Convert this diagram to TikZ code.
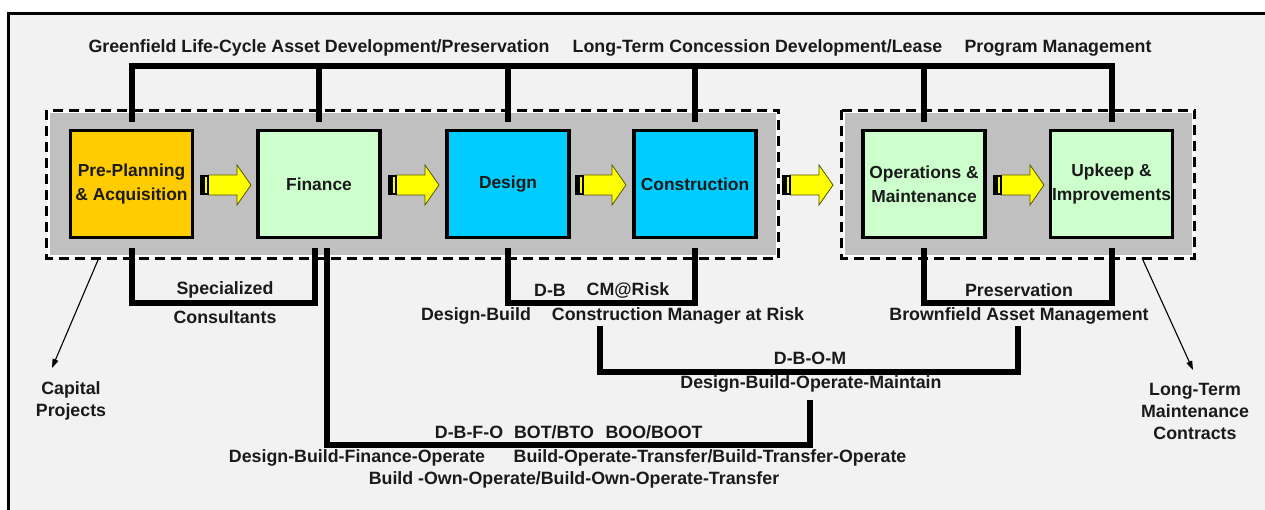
\documentclass[tikz,border=0pt]{standalone}
\usepackage{fontspec}
\setmainfont{Liberation Sans}
\usetikzlibrary{arrows.meta}
\definecolor{bgc}{HTML}{F2F2F2}
\definecolor{grp}{HTML}{C0C0C0}
\definecolor{orangec}{HTML}{FFCC00}
\definecolor{greenc}{HTML}{CCFFCC}
\definecolor{bluec}{HTML}{00CCFF}
\definecolor{yellowc}{HTML}{FFFF00}
\definecolor{txt}{HTML}{1A1A1A}
\definecolor{aredge}{HTML}{555500}
\tikzset{
  grpbox/.style={fill=grp, draw=white, line width=3pt, inner sep=0pt},
  dashline/.style={draw=black, line width=3pt, dash pattern=on 10pt off 6pt},
  stagebox/.style={draw=black, line width=3.5pt, minimum width=122pt, minimum height=107pt,
    inner sep=0pt, align=center, font=\fontsize{17.4}{24}\selectfont\bfseries, text=txt},
  lbl/.style={inner sep=0pt, font=\fontsize{17.8}{22}\selectfont\bfseries, text=txt, align=center},
  br/.style={draw=black, line width=6pt, line join=miter},
  thinarrow/.style={draw=black, line width=1.1pt, -{Triangle[length=9pt,width=6pt]}},
  barrow/.pic={
    \fill[yellowc, draw=aredge, line width=0.8pt] (8,-10) -- (37,-10) -- (37,-20) -- (51,0) -- (37,20) -- (37,10) -- (8,10) -- cycle;
    \fill[black] (0,-10) rectangle (9,10);
    \fill[yellowc] (4.5,-8) rectangle (6.5,8);
  }
}
\begin{document}
\begin{tikzpicture}[x=1pt,y=-1pt]
\useasboundingbox (0,0) rectangle (1265,510);
\fill[white] (0,0) rectangle (1265,510);
\fill[bgc] (8.5,13.5) rectangle (1270,515);
\draw[line width=3pt] (8.5,515) -- (8.5,13.5) -- (1270,13.5);

% groups
\node[grpbox, minimum width=729pt, minimum height=145pt] (g1) at (412.5,184.5) {};
\draw[dashline] (g1.north west) rectangle (g1.south east);
\node[grpbox, minimum width=350pt, minimum height=145pt] (g2) at (1018,184.5) {};
\draw[dashline] (g2.north west) rectangle (g2.south east);

% stage boxes
\node[stagebox, fill=orangec] (pp) at (131.5,184) {Pre-Planning\\\& Acquisition};
\node[stagebox, fill=greenc] (fin) at (319,184) {Finance};
\node[stagebox, fill=bluec] (des) at (508,184) {Design};
\node[stagebox, fill=bluec] (con) at (695,184) {Construction};
\node[stagebox, fill=greenc] (ops) at (924,184) {Operations \&\\Maintenance};
\node[stagebox, fill=greenc] (upk) at (1111.5,184) {Upkeep \&\\Improvements};

% block arrows
\pic at (200,185) {barrow};
\pic at (388,185) {barrow};
\pic at (575,185) {barrow};
\pic at (782,185) {barrow};
\pic at (993,185) {barrow};

% top labels
\node[lbl] (tl1) at (319,48) {Greenfield Life-Cycle Asset Development/Preservation};
\node[lbl] (tl2) at (757.5,48) {Long-Term Concession Development/Lease};
\node[lbl] (tl3) at (1058,48) {Program Management};

% top bracket
\coordinate (ty) at (0,66);
\draw[br] ([yshift=7pt]pp.north) -- (pp.north |- ty) -- (upk.north |- ty) -- ([yshift=7pt]upk.north);
\draw[br] ([yshift=7pt]fin.north) -- (fin.north |- ty);
\draw[br] ([yshift=7pt]des.north) -- (des.north |- ty);
\draw[br] ([yshift=7pt]con.north) -- (con.north |- ty);
\draw[br] ([yshift=7pt]ops.north) -- (ops.north |- ty);

% bottom brackets
\coordinate (by) at (0,303);
\draw[br] ([yshift=-9pt]pp.south) -- (pp.south |- by) -- ([xshift=-4pt]fin.south |- by) -- ([xshift=-4pt,yshift=-9pt]fin.south);
\draw[br] ([yshift=-9pt]des.south) -- (des.south |- by) -- (con.south |- by) -- ([yshift=-9pt]con.south);
\draw[br] ([yshift=-9pt]ops.south) -- (ops.south |- by) -- (upk.south |- by) -- ([yshift=-9pt]upk.south);

\node[lbl] (sp1) at (225,290) {Specialized};
\node[lbl] (sp2) at (225,317) {Consultants};
\node[lbl] (db) at (550,290) {D-B};
\node[lbl] (cmr) at (628,290) {CM@Risk};
\node[lbl] (dbl) at (476,316) {Design-Build};
\node[lbl] (cmrl) at (678,316) {Construction Manager at Risk};
\node[lbl] (pres) at (1019,290) {Preservation};
\node[lbl] (bam) at (1019,316) {Brownfield Asset Management};

% DBOM
\coordinate (dbomL) at (600,326);
\coordinate (dbomR) at (1018,326);
\coordinate (dbomy) at (0,372);
\draw[br] (dbomL) |- (dbomR |- dbomy) -- (dbomR);
\node[lbl] (dbom) at (810,358) {D-B-O-M};
\node[lbl] (dbomt) at (811,384) {Design-Build-Operate-Maintain};

% DBFO
\coordinate (dbfoy) at (0,445);
\coordinate (dbfoend) at (810,400);
\draw[br] ([xshift=8pt,yshift=-9pt]fin.south) |- (dbfoend |- dbfoy) -- (dbfoend);
\node[lbl] (dbfo) at (469,432) {D-B-F-O};
\node[lbl] (bot) at (554,432) {BOT/BTO};
\node[lbl] (boo) at (654,432) {BOO/BOOT};
\node[lbl] (dbfot) at (357,458) {Design-Build-Finance-Operate};
\node[lbl] (bott) at (710,458) {Build-Operate-Transfer/Build-Transfer-Operate};
\node[lbl] (boot) at (574,480) {Build -Own-Operate/Build-Own-Operate-Transfer};

% side notes
\node[lbl] (cap) at (71,401) {Capital\\Projects};
\node[lbl] (ltm) at (1195,411) {Long-Term\\Maintenance\\Contracts};
\coordinate (capa) at (98,260);
\coordinate (capb) at (52,368);
\draw[thinarrow] (capa) -- (capb);
\coordinate (ltma) at (1142,258);
\coordinate (ltmb) at (1193,370);
\draw[thinarrow] (ltma) -- (ltmb);
\end{tikzpicture}
\end{document}
